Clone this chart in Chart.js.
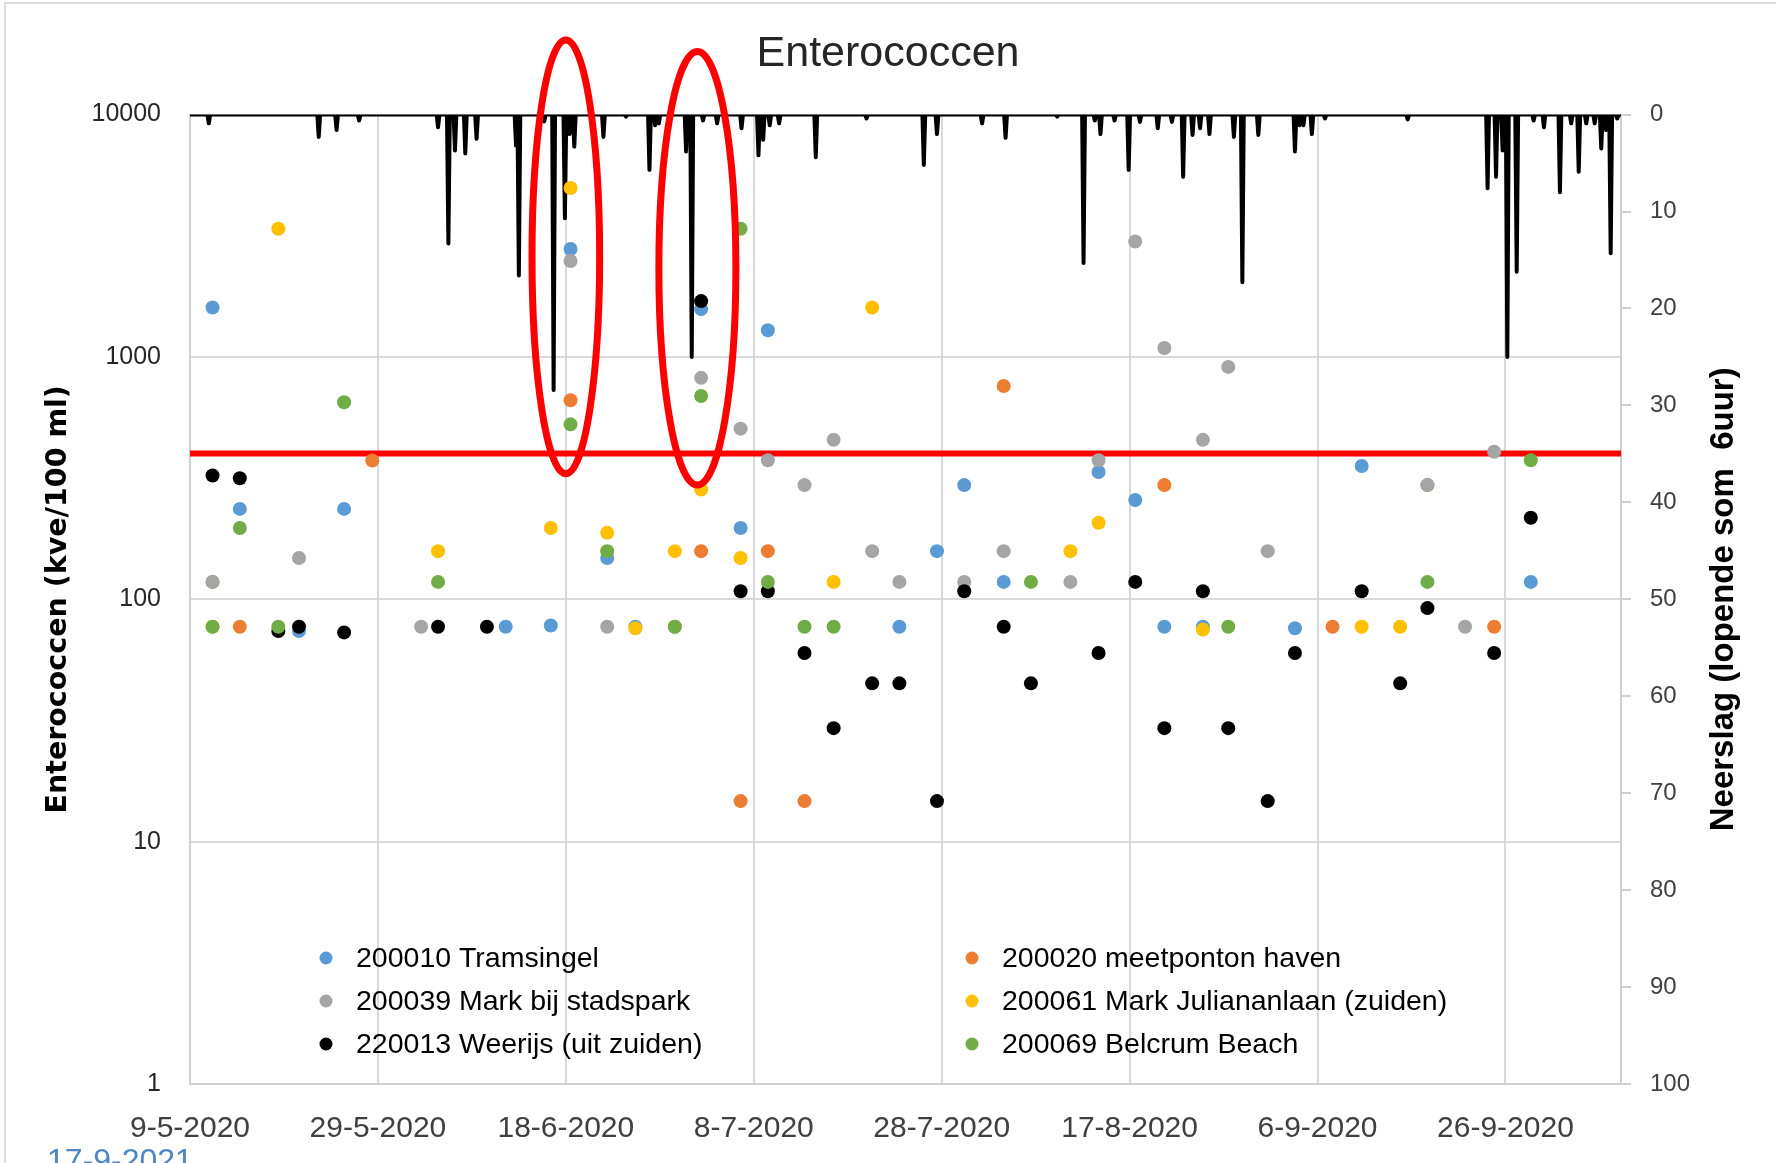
<!DOCTYPE html>
<html>
<head>
<meta charset="utf-8">
<title>Enterococcen</title>
<script src="https://cdn.jsdelivr.net/npm/chart.js@4.4.1/dist/chart.umd.min.js"></script>
<style>
	body { margin: 0; background: #fff; }
	#wrap { position: relative; width: 1776px; height: 1163px; overflow: hidden; }
	#frame { position: absolute; left: 4px; top: 2px; right: -10px; bottom: -10px; border-left: 2px solid #dcdcdc; border-top: 2px solid #dcdcdc; }
	#chartEntero { position: absolute; left: 0; top: 0; }
	#stamp { position: absolute; left: 47px; top: 1142px; font: 32px "Liberation Sans", Arial, sans-serif; color: #4a86c8; }
</style>
</head>
<body>
<div id="wrap">
	<div id="frame"></div>
	<canvas id="chartEntero" width="1776" height="1163"></canvas>
	<div id="stamp">17-9-2021</div>
</div>
<script>
// days counted from 9-5-2020
var startDate = Date.UTC(2020, 4, 9);
var xMax = 152.3;
var xTicks = [0, 20, 40, 60, 80, 100, 120, 140];
var yTicks = [1, 10, 100, 1000, 10000];
var threshold = 400;

var names = ['200010 Tramsingel', '200020 meetponton haven', '200039 Mark bij stadspark',
	'200061 Mark Juliananlaan (zuiden)', '220013 Weerijs (uit zuiden)', '200069 Belcrum Beach'];
var colors = ['#5b9bd5', '#ed7d31', '#a5a5a5', '#ffc000', '#000000', '#70ad47'];

var tramDay = [2.4, 5.3, 11.6, 16.4, 33.6, 38.4, 40.5, 44.4, 47.4, 54.4, 58.6, 61.5, 75.5, 79.5, 82.4, 86.6, 96.7, 100.6, 103.7, 107.8, 117.6, 124.7, 142.7];
var tramVal = [1600, 236, 74, 236, 77, 78, 2790, 148, 77, 1575, 197, 1288, 77, 158, 296, 118, 335, 257, 77, 77, 76, 355, 118];

var havenDay = [2.4, 5.3, 19.4, 40.5, 51.6, 54.4, 58.6, 61.5, 65.4, 86.6, 103.7, 121.6, 131.7, 138.8];
var havenVal = [118, 77, 374, 663, 77, 158, 14.7, 158, 14.7, 759, 296, 77, 296, 77];

var parkDay = [2.4, 11.6, 24.6, 40.5, 44.4, 54.4, 58.6, 61.5, 65.4, 68.5, 72.6, 75.5, 82.4, 86.6, 93.7, 96.7, 100.6, 103.7, 107.8, 110.5, 114.7, 131.7, 135.7, 138.8];
var parkVal = [118, 148, 77, 2490, 77, 820, 506, 375, 296, 455, 158, 118, 118, 158, 118, 375, 2994, 1089, 455, 910, 158, 296, 77, 406];

var julianaDay = [2.4, 9.4, 26.4, 38.4, 40.5, 44.4, 47.4, 51.6, 54.4, 58.6, 68.5, 72.6, 93.7, 96.7, 107.8, 124.7, 128.8];
var julianaVal = [77, 3380, 158, 197, 4980, 188, 76, 158, 284, 148, 118, 1600, 158, 207, 75, 77, 77];

var weerijsDay = [2.4, 5.3, 9.4, 11.6, 16.4, 26.4, 31.6, 54.4, 58.6, 61.5, 65.4, 68.5, 72.6, 75.5, 79.5, 82.4, 86.6, 89.5, 96.7, 100.6, 103.7, 107.8, 110.5, 114.7, 117.6, 124.7, 128.8, 131.7, 138.8, 142.7];
var weerijsVal = [324, 316, 74, 77, 73, 77, 77, 1700, 108, 108, 60, 29.4, 45, 45, 14.7, 108, 77, 45, 60, 118, 29.4, 108, 29.4, 14.7, 60, 108, 45, 92, 60, 217];

var belcrumDay = [2.4, 5.3, 9.4, 16.4, 26.4, 40.5, 44.4, 51.6, 54.4, 58.6, 61.5, 65.4, 68.5, 89.5, 110.5, 131.7, 142.7];
var belcrumVal = [77, 197, 77, 650, 118, 527, 158, 77, 690, 3380, 118, 77, 77, 118, 77, 118, 375];

// neerslag, lopende som 6 uur (peaks)
var rainDay = [2.0, 13.7, 15.6, 18.0, 26.4, 27.5, 28.2, 29.3, 30.5, 34.7, 35.0, 37.7, 38.7, 39.9, 40.4, 40.9, 44.0, 46.4, 48.9, 49.5, 49.9,
	52.8, 53.4, 54.6, 56.1, 58.7, 60.5, 61.0, 61.7, 62.7, 66.6, 72.0, 78.1, 79.5, 84.3, 86.8, 92.3, 95.1, 96.3, 96.9, 98.4, 99.9,
	101.1, 103.0, 104.5, 105.7, 106.7, 107.5, 108.5, 111.1, 112.0, 113.7, 117.6, 118.1, 118.5, 119.4, 120.8, 129.6,
	138.1, 139.0, 139.7, 140.2, 141.2, 143.0, 144.1, 145.8, 147.0, 147.8, 148.6, 149.5, 150.2, 150.7, 151.2, 151.9];
var rainMm = [0.9, 2.3, 1.6, 0.6, 1.3, 13.3, 3.7, 4.0, 2.5, 3.2, 16.6, 0.7, 28.4, 10.7, 2.0, 3.3, 2.3, 0.2, 5.7, 1.1, 0.9,
	3.8, 25.0, 0.6, 0.9, 1.4, 4.2, 2.6, 1.1, 0.9, 4.4, 0.4, 5.2, 2.0, 0.9, 2.4, 0.2, 15.3, 0.6, 2.0, 0.6, 5.7,
	0.75, 1.4, 0.75, 6.4, 2.1, 1.4, 2.0, 2.3, 17.3, 2.1, 3.8, 1.1, 1.1, 2.0, 0.4, 0.5,
	7.6, 6.4, 3.7, 25.0, 16.2, 0.6, 1.3, 8.0, 0.9, 5.9, 0.9, 0.9, 3.5, 1.6, 14.3, 0.4];

// red rings drawn round the two showers
var ringDay = [40, 54];
var ringHalfDays = [3.6, 4.1];
var ringTop = [20300, 18200];
var ringBottom = [330, 296];

function points(days, vals) {
	return days.map(function (d, i) { return { x: d, y: vals[i] }; });
}

var rain = [{ x: 0, y: 0 }];
rainDay.forEach(function (d, i) {
	rain.push({ x: d - 0.15, y: 0 }, { x: d, y: rainMm[i] }, { x: d + 0.15, y: 0 });
});
rain.push({ x: xMax, y: 0 });

function dotSet(i, days, vals) {
	return {
		type: 'scatter',
		label: names[i],
		data: points(days, vals),
		backgroundColor: colors[i],
		borderWidth: 0,
		pointRadius: 7,
		pointHoverRadius: 7,
		order: 6 - i
	};
}

function dateLabel(v) {
	var d = new Date(startDate + v * 86400000);
	return d.getUTCDate() + '-' + (d.getUTCMonth() + 1) + '-' + d.getUTCFullYear();
}

var extras = {
	id: 'extras',
	afterDatasetsDraw: function (chart) {
		var ctx = chart.ctx, x = chart.scales.x, y = chart.scales.y, area = chart.chartArea;
		ctx.save();
		ctx.strokeStyle = '#ff0000';
		ctx.lineWidth = 7;
		for (var i = 0; i < ringDay.length; i++) {
			var cx = x.getPixelForValue(ringDay[i]);
			var rx = x.getPixelForValue(ringDay[i] + ringHalfDays[i]) - cx;
			var top = y.getPixelForValue(ringTop[i]);
			var bot = y.getPixelForValue(ringBottom[i]);
			ctx.beginPath();
			ctx.ellipse(cx, (top + bot) / 2, rx, (bot - top) / 2, 0, 0, Math.PI * 2);
			ctx.stroke();
		}

		// axis titles, both reading upwards
		var midY = (area.top + area.bottom) / 2;
		ctx.fillStyle = '#000';
		ctx.textAlign = 'center';
		ctx.textBaseline = 'middle';
		ctx.save();
		ctx.translate(59, midY);
		ctx.rotate(-Math.PI / 2);
		ctx.font = 'bold 28.5px "DejaVu Sans"';
		ctx.fillText('Enterococcen (kve/100 ml)', 0, 0);
		ctx.restore();
		ctx.save();
		ctx.translate(1724, midY);
		ctx.rotate(-Math.PI / 2);
		ctx.font = 'bold 33px "Liberation Sans"';
		ctx.fillText('Neerslag (lopende som  6uur)', 0, 0);
		ctx.restore();

		// legend, two columns inside the plot
		var colX = [326, 972], rowY = [958, 1001, 1044];
		ctx.font = '28.5px "Liberation Sans"';
		ctx.textAlign = 'left';
		for (var k = 0; k < names.length; k++) {
			var lx = colX[k % 2], ly = rowY[Math.floor(k / 2)];
			ctx.fillStyle = colors[k];
			ctx.beginPath();
			ctx.arc(lx, ly, 6.5, 0, Math.PI * 2);
			ctx.fill();
			ctx.fillStyle = '#000';
			ctx.fillText(names[k], lx + 30, ly + 1);
		}
		ctx.restore();
	}
};

var ctx = document.getElementById('chartEntero').getContext('2d');
var chart = new Chart(ctx, {
	type: 'scatter',
	data: {
		datasets: [
			dotSet(0, tramDay, tramVal),
			dotSet(1, havenDay, havenVal),
			dotSet(2, parkDay, parkVal),
			dotSet(3, julianaDay, julianaVal),
			dotSet(4, weerijsDay, weerijsVal),
			dotSet(5, belcrumDay, belcrumVal),
			{
				type: 'line',
				label: 'norm',
				data: [{ x: 0, y: threshold }, { x: xMax, y: threshold }],
				borderColor: '#ff0000',
				borderWidth: 6,
				pointRadius: 0,
				order: 8
			},
			{
				type: 'line',
				label: 'Neerslag',
				yAxisID: 'y2',
				data: rain,
				borderColor: '#000',
				borderWidth: 4,
				borderJoinStyle: 'round',
				pointRadius: 0,
				tension: 0,
				order: 10
			}
		]
	},
	options: {
		responsive: false,
		animation: false,
		events: [],
		layout: { padding: 0 },
		plugins: {
			legend: { display: false },
			tooltip: { enabled: false },
			title: {
				display: true,
				text: 'Enterococcen',
				color: '#262626',
				font: { family: 'Liberation Sans', size: 43, weight: 'normal', lineHeight: 1.2 },
				padding: { top: 28, bottom: 35 }
			}
		},
		scales: {
			x: {
				type: 'linear',
				min: 0,
				max: xMax,
				afterFit: function (s) { s.height = 79; },
				afterBuildTicks: function (s) { s.ticks = xTicks.map(function (v) { return { value: v }; }); },
				grid: { color: '#d9d9d9', lineWidth: 2, drawTicks: false },
				border: { color: '#d0d0d0', width: 2 },
				ticks: {
					callback: dateLabel,
					color: '#404040',
					font: { family: 'Liberation Sans', size: 30 },
					padding: 27,
					maxRotation: 0,
					autoSkip: false
				}
			},
			y: {
				type: 'logarithmic',
				position: 'left',
				min: 1,
				max: 10000,
				afterFit: function (s) { s.width = 190; },
				afterBuildTicks: function (s) { s.ticks = yTicks.map(function (v) { return { value: v }; }); },
				grid: { color: '#d9d9d9', lineWidth: 2, drawTicks: false },
				border: { color: '#d0d0d0', width: 2 },
				ticks: {
					callback: function (v) { return String(v); },
					color: '#262626',
					font: { family: 'Liberation Sans', size: 25 },
					padding: 29
				}
			},
			y2: {
				type: 'linear',
				position: 'right',
				reverse: true,
				min: 0,
				max: 100,
				afterFit: function (s) { s.width = 155; },
				grid: { drawOnChartArea: false, color: '#d0d0d0', lineWidth: 2, tickLength: 10 },
				border: { color: '#d0d0d0', width: 2 },
				ticks: {
					stepSize: 10,
					color: '#404040',
					font: { family: 'Liberation Sans', size: 24 },
					padding: 19
				}
			}
		}
	},
	plugins: [extras]
});
</script>
</body>
</html>
